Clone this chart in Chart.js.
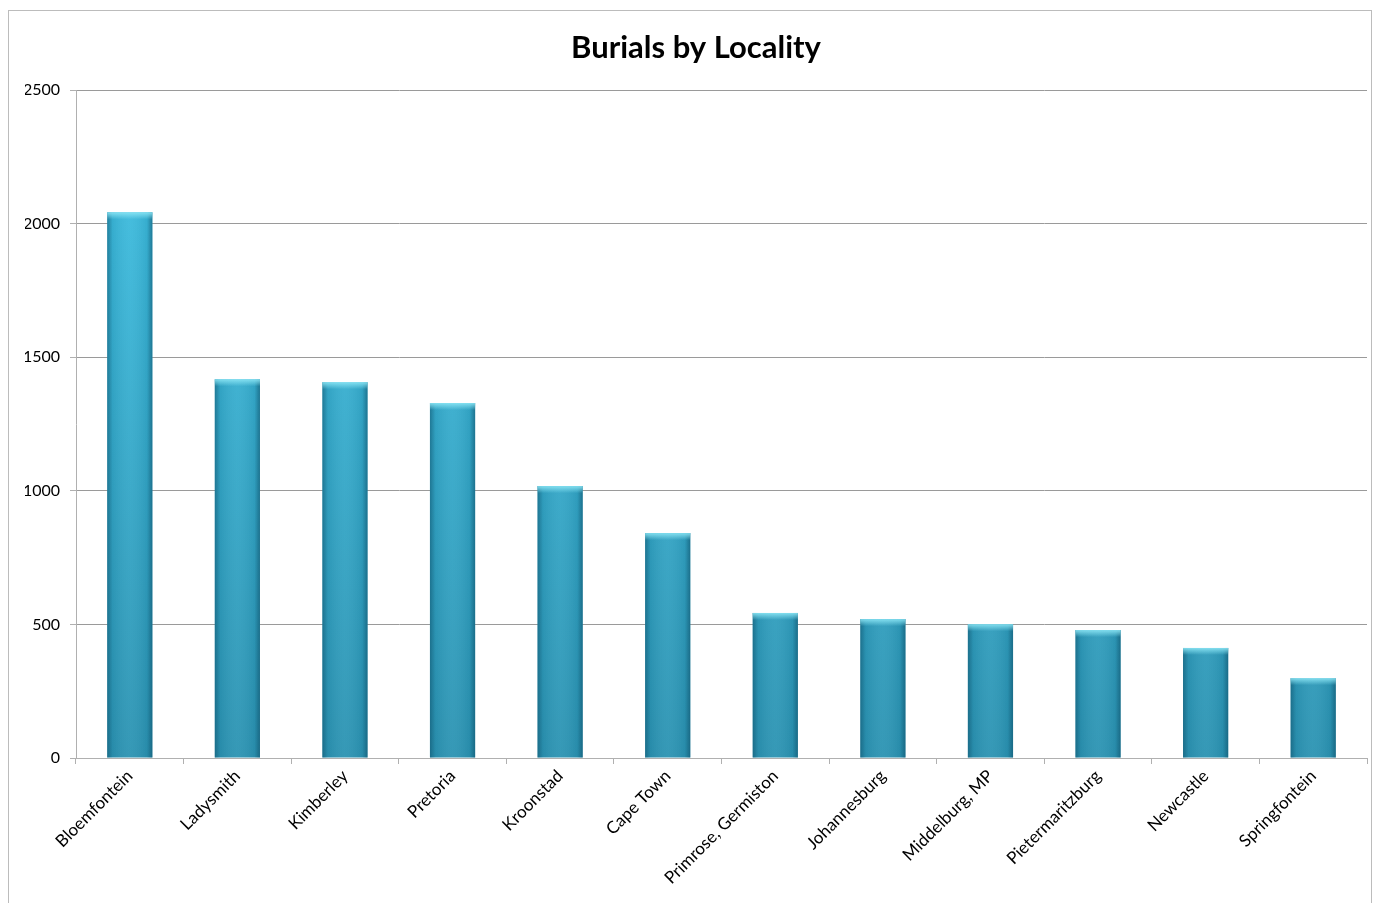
<!DOCTYPE html>
<html>
<head>
<meta charset="utf-8">
<script src="https://cdn.jsdelivr.net/npm/chart.js@4.4.1/dist/chart.umd.min.js"></script>
<style>
  html, body { margin: 0; padding: 0; background: #fff; overflow: hidden; }
  #caixa { position: absolute; left: 8px; top: 10px; width: 1364px; height: 900px; border: 1px solid #bcbcbc; box-sizing: border-box; }
  #grafico { display: block; }
</style>
</head>
<body>
<div id="caixa"><canvas id="grafico"></canvas></div>
<script>
// dados
const localidades = ['Bloemfontein', 'Ladysmith', 'Kimberley', 'Pretoria', 'Kroonstad', 'Cape Town',
  'Primrose, Germiston', 'Johannesburg', 'Middelburg, MP', 'Pietermaritzburg', 'Newcastle', 'Springfontein'];
const sepultamentos = [2043, 1418, 1407, 1329, 1018, 842, 543, 520, 501, 479, 412, 299];
const ticksY = [0, 500, 1000, 1500, 2000, 2500];

const fonte = 'Lato, "Open Sans", sans-serif';
const caixa = document.getElementById('caixa');
const canvas = document.getElementById('grafico');
canvas.width = caixa.clientWidth;
canvas.height = caixa.clientHeight;

// sombreado das barras (bordas escuras + tampa clara)
const sombraBarras = {
  id: 'sombraBarras',
  afterDatasetsDraw(chart) {
    const c = chart.ctx;
    chart.getDatasetMeta(0).data.forEach(bar => {
      const esq = bar.x - bar.width / 2;
      const dir = bar.x + bar.width / 2;
      const topo = bar.y;
      const base = bar.base;
      const g = c.createLinearGradient(esq, 0, dir, 0);
      g.addColorStop(0, 'rgba(10,70,95,0.5)');
      g.addColorStop(0.12, 'rgba(10,70,95,0.1)');
      g.addColorStop(0.5, 'rgba(255,255,255,0.05)');
      g.addColorStop(0.88, 'rgba(10,70,95,0.1)');
      g.addColorStop(1, 'rgba(10,70,95,0.55)');
      c.save();
      c.fillStyle = g;
      c.fillRect(esq, topo, bar.width, base - topo);
      const t = c.createLinearGradient(0, topo, 0, topo + 7);
      t.addColorStop(0, 'rgba(140,230,245,0.9)');
      t.addColorStop(1, 'rgba(140,230,245,0)');
      c.fillStyle = t;
      c.fillRect(esq, topo, bar.width, 7);
      c.restore();
    });
  }
};

new Chart(canvas, {
  type: 'bar',
  data: {
    labels: localidades,
    datasets: [{
      label: 'Burials',
      data: sepultamentos,
      backgroundColor: (ctx) => {
        const area = ctx.chart.chartArea;
        if (!area) return '#36b0d4';
        const g = ctx.chart.ctx.createLinearGradient(0, area.top, 0, area.bottom);
        g.addColorStop(0, '#3fc2e5');
        g.addColorStop(1, '#2b93b2');
        return g;
      },
      borderWidth: 0,
      categoryPercentage: 1,
      barPercentage: 0.42
    }]
  },
  options: {
    responsive: false,
    animation: false,
    layout: { padding: { left: 16, right: 4, top: 0, bottom: 0 } },
    plugins: {
      legend: { display: false },
      tooltip: { enabled: false },
      title: {
        display: true,
        text: 'Burials by Locality',
        color: '#000',
        font: { family: fonte, size: 31, weight: 'bold' },
        padding: { top: 18, bottom: 24 }
      }
    },
    scales: {
      y: {
        min: 0, max: 2500,
        afterBuildTicks: (s) => { s.ticks = ticksY.map(v => ({ value: v })); },
        afterFit: (s) => { s.width = 51; },
        grid: { color: '#9a9a9a', lineWidth: 1, tickLength: 6, tickColor: '#b0b0b0' },
        border: { color: '#b0b0b0' },
        ticks: { color: '#000', font: { family: fonte, size: 16 }, padding: 10, callback: (v) => String(v) }
      },
      x: {
        afterFit: (s) => { s.height = 151; },
        grid: { offset: true, drawOnChartArea: false, tickLength: 6, color: '#b0b0b0' },
        border: { color: '#b0b0b0' },
        ticks: { color: '#000', font: { family: fonte, size: 17 }, maxRotation: 45, minRotation: 45, autoSkip: false, padding: 2 }
      }
    }
  },
  plugins: [sombraBarras]
});
</script>
</body>
</html>
